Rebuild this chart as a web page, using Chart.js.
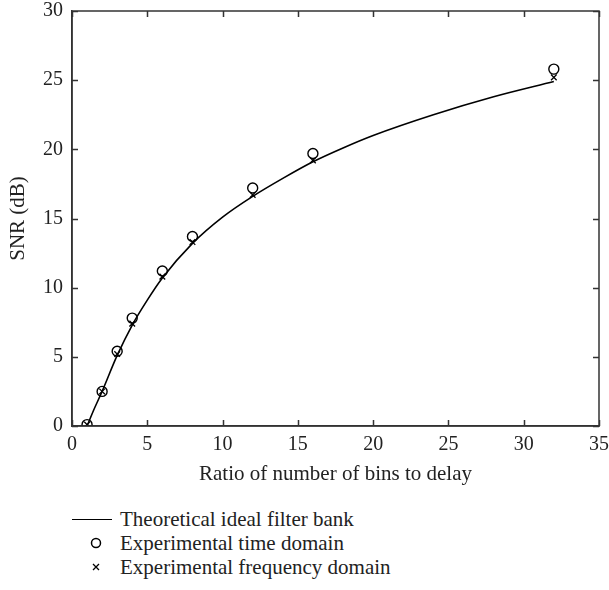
<!DOCTYPE html>
<html>
<head>
<meta charset="utf-8">
<script src="https://cdn.jsdelivr.net/npm/chart.js@4.4.0/dist/chart.umd.min.js"></script>
<style>
  body { margin: 0; background: #fff; font-family: "Liberation Serif", serif; }
  #wrap { position: relative; width: 609px; height: 590px; }
  #chart { position: absolute; left: 0; top: 0; }
  #legend { position: absolute; left: 72px; top: 507px; font-size: 21px; color: #222; }
  .row { height: 24px; line-height: 24px; display: flex; align-items: center; }
  .sym { width: 48px; display: flex; justify-content: center; align-items: center; }
  .line { width: 40px; height: 0; border-top: 1.5px solid #000; margin-left: -8px; }
</style>
</head>
<body>
<div id="wrap">
  <canvas id="chart" width="609" height="490"></canvas>
  <div id="legend">
    <div class="row"><div class="sym"><div class="line"></div></div><span>Theoretical ideal filter bank</span></div>
    <div class="row"><div class="sym"><svg width="12" height="12"><circle cx="6" cy="6" r="4.5" fill="none" stroke="#000" stroke-width="1.5"/></svg></div><span>Experimental time domain</span></div>
    <div class="row"><div class="sym"><svg width="10" height="10"><path d="M2 2L8 8M8 2L2 8" stroke="#000" stroke-width="1.3"/></svg></div><span>Experimental frequency domain</span></div>
  </div>
</div>
<script>
// measured points (ratio of bins to delay)
const ratios = [1, 2, 3, 4, 6, 8, 12, 16, 32];
const timeDomain = [0.1, 2.5, 5.4, 7.8, 11.2, 13.7, 17.2, 19.7, 25.8];
const freqDomain = [0.1, 2.5, 5.2, 7.4, 10.8, 13.3, 16.7, 19.2, 25.2];

// theoretical curve
const theoryX = [1, 1.5, 2, 3, 4, 5, 6, 8, 10, 12, 14, 16, 18, 20, 24, 28, 32];
const theoryY = [0, 1.3, 2.5, 5.1, 7.3, 9.1, 10.7, 13.2, 15.1, 16.6, 17.9, 19.1, 20.1, 21.0, 22.5, 23.8, 24.9];

const xTicks = [0, 5, 10, 15, 20, 25, 30, 35];
const yTicks = [0, 5, 10, 15, 20, 25, 30];

const tickFont = { family: 'Liberation Serif', size: 20 };
const titleFont = { family: 'Liberation Serif', size: 21 };
const ink = '#222';
const frameColor = '#333';

function pts(xs, ys) {
  return xs.map(function (x, i) { return { x: x, y: ys[i] }; });
}

// box round the plot plus inward ticks on all four sides, placed through the scales
const frame = {
  id: 'frame',
  afterDraw: function (chart) {
    const c = chart.ctx, a = chart.chartArea;
    const sx = chart.scales.x, sy = chart.scales.y;
    const len = 6;
    c.save();
    c.strokeStyle = frameColor;
    c.lineWidth = 1.5;
    c.beginPath();
    c.moveTo(a.left, a.top); c.lineTo(a.right, a.top);
    c.lineTo(a.right, a.bottom); c.lineTo(a.left, a.bottom);
    c.closePath();
    xTicks.forEach(function (v) {
      const px = Math.round(sx.getPixelForValue(v)) + 0.5;
      c.moveTo(px, a.bottom); c.lineTo(px, a.bottom - len);
      c.moveTo(px, a.top); c.lineTo(px, a.top + len);
    });
    yTicks.forEach(function (v) {
      const py = Math.round(sy.getPixelForValue(v)) + 0.5;
      c.moveTo(a.left, py); c.lineTo(a.left + len, py);
      c.moveTo(a.right, py); c.lineTo(a.right - len, py);
    });
    c.stroke();
    c.restore();
  }
};

function axis(pos, min, max, ticks, title, size, pad) {
  const horiz = pos === 'bottom';
  return {
    type: 'linear',
    position: pos,
    min: min,
    max: max,
    afterBuildTicks: function (s) { s.ticks = ticks.map(function (v) { return { value: v }; }); },
    afterFit: function (s) {
      if (horiz) { s.height = size; s.paddingLeft = 0; s.paddingRight = 0; }
      else { s.width = size; s.paddingTop = 0; s.paddingBottom = 0; }
    },
    border: { display: true, color: frameColor, width: 1.5 },
    grid: { display: false, drawTicks: false },
    ticks: { font: tickFont, color: ink, padding: pad, maxRotation: 0 },
    title: { display: true, text: title, font: titleFont, color: ink, padding: { top: 6, bottom: 3 } }
  };
}

new Chart(document.getElementById('chart'), {
  type: 'scatter',
  data: {
    datasets: [{
      label: 'Theoretical ideal filter bank',
      data: pts(theoryX, theoryY),
      showLine: true,
      borderColor: '#000',
      borderWidth: 1.6,
      pointRadius: 0,
      cubicInterpolationMode: 'monotone'
    }, {
      label: 'Experimental time domain',
      data: pts(ratios, timeDomain),
      pointStyle: 'circle',
      pointRadius: 5,
      borderColor: '#000',
      borderWidth: 1.4,
      backgroundColor: 'rgba(255,255,255,0)'
    }, {
      label: 'Experimental frequency domain',
      data: pts(ratios, freqDomain),
      pointStyle: 'crossRot',
      pointRadius: 4,
      borderColor: '#000',
      borderWidth: 1.3
    }]
  },
  plugins: [frame],
  options: {
    responsive: false,
    animation: false,
    layout: { padding: { top: 11, right: 10, left: 0, bottom: 0 } },
    plugins: { legend: { display: false }, tooltip: { enabled: false } },
    scales: {
      x: axis('bottom', 0, 35, xTicks, 'Ratio of number of bins to delay', 64, 7),
      y: axis('left', 0, 30, yTicks, 'SNR (dB)', 72, 9)
    }
  }
});
</script>
</body>
</html>
